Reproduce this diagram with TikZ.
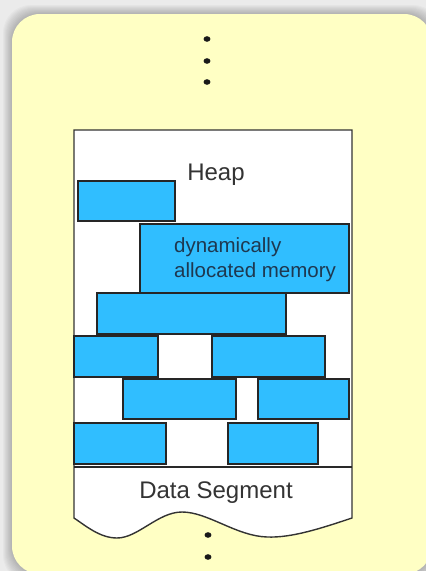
\documentclass[tikz,border=0pt]{standalone}
\usepackage{fontspec}
\setmainfont{Liberation Sans}
\definecolor{panel}{HTML}{FFFFC4}
\definecolor{memblue}{HTML}{30BEFF}
\definecolor{edgec}{HTML}{333333}
\definecolor{txt}{HTML}{333333}
\definecolor{blktxt}{HTML}{1E3850}
\begin{document}
\begin{tikzpicture}[x=1pt,y=-1pt,
  blk/.style={fill=memblue, draw=black!85, line width=1.3pt},
  dotc/.style={fill=black!90},
  lbl/.style={inner sep=0pt, text=txt, font=\fontsize{24}{28}\selectfont, anchor=base},
  btxt/.style={inner sep=0pt, text=blktxt, font=\fontsize{20.5}{25}\selectfont, anchor=base west}]
\useasboundingbox (0,0) rectangle (426,571);
% background and shadow
\fill[black!8] (0,0) rectangle (426,571);
\foreach \i in {1,...,10}
  \fill[black, opacity=0.025, rounded corners=28pt] (12-\i*0.9, 14-\i*0.9) rectangle (432+\i*0.9, 574+\i*0.9);
\fill[panel, rounded corners=28pt] (12,14) rectangle (432,574);
% dots above
\foreach \yy in {39,61,82} \fill[dotc] (207,\yy) ellipse [x radius=3.4pt, y radius=2.8pt];
% memory box (heap + data segment)
\filldraw[fill=white, draw=edgec, line width=1.4pt]
  (74,130) -- (352,130) -- (352,518)
  .. controls (322,528) and (292,538) .. (267,537)
  .. controls (236,536) and (208,512) .. (182,512)
  .. controls (158,512) and (138,538) .. (117,538)
  .. controls (100,538) and (86,526) .. (74,518) -- cycle;
% blocks
\filldraw[blk] (78,181) rectangle (175,221);
\filldraw[blk] (140,224) rectangle (349,293);
\filldraw[blk] (97,293) rectangle (286,334);
\filldraw[blk] (74,336) rectangle (158,377);
\filldraw[blk] (212,336) rectangle (325,377);
\filldraw[blk] (123,379) rectangle (236,419);
\filldraw[blk] (258,379) rectangle (349,419);
\filldraw[blk] (74,423) rectangle (166,464);
\filldraw[blk] (228,423) rectangle (318,464);
% divider
\draw[edgec!80!black, line width=2.6pt] (74,467) -- (352,467);
% texts
\node[lbl] (heap) at (216,180) {Heap};
\node[btxt] (dyn1) at (174,252) {dynamically};
\node[btxt] (dyn2) at (174,277) {allocated memory};
\node[lbl] (data) at (216,498) {Data Segment};
% dots below
\foreach \yy in {535,557} \fill[dotc] (208,\yy) ellipse [x radius=3.4pt, y radius=2.8pt];
\end{tikzpicture}
\end{document}
